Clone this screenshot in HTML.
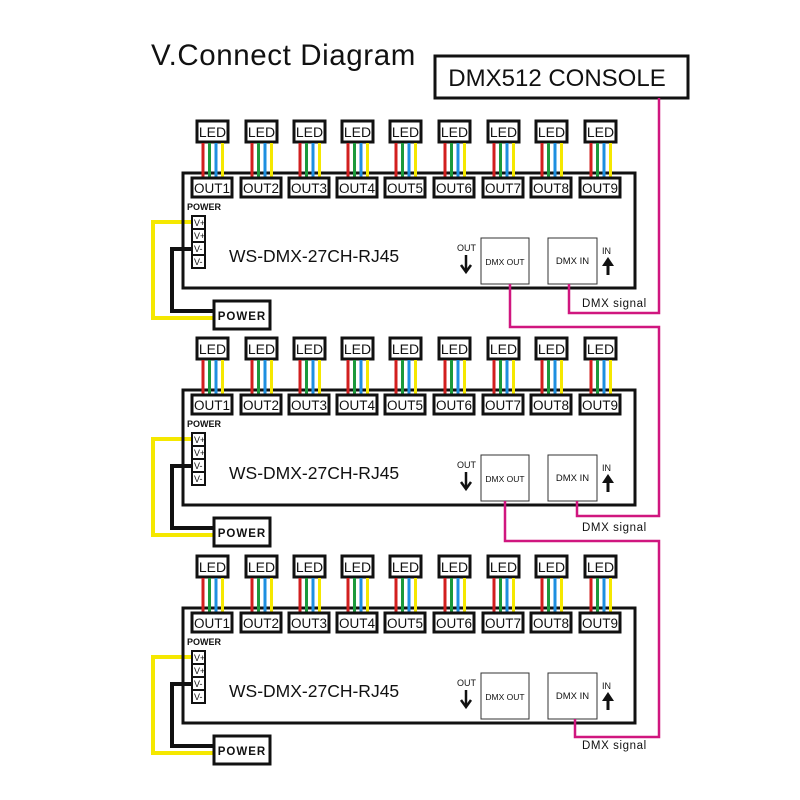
<!DOCTYPE html>
<html><head><meta charset="utf-8"><style>
html,body{margin:0;padding:0;background:#fff;}
svg{display:block;font-family:"Liberation Sans",Arial,sans-serif;}
</style></head><body>
<svg width="800" height="800" viewBox="0 0 800 800" xmlns="http://www.w3.org/2000/svg">
<defs>
<g id="mod">
  <polyline points="192,222 153,222 153,318 214,318" fill="none" stroke="#f5e800" stroke-width="4"/>
  <polyline points="192,249 172,249 172,311 214,311" fill="none" stroke="#111" stroke-width="4"/>
  <rect x="183" y="173" width="452" height="115" fill="none" stroke="#111" stroke-width="3"/>
  <rect x="197" y="121" width="31" height="21" fill="#fff" stroke="#111" stroke-width="3"/>
  <text x="212.5" y="137" font-size="14" text-anchor="middle" fill="#111">LED</text>
  <line x1="203" y1="143" x2="203" y2="178" stroke="#d21f1f" stroke-width="3"/>
  <line x1="209.5" y1="143" x2="209.5" y2="178" stroke="#1b9a3c" stroke-width="3"/>
  <line x1="216" y1="143" x2="216" y2="178" stroke="#1e8fe0" stroke-width="3"/>
  <line x1="222.5" y1="143" x2="222.5" y2="178" stroke="#f5e800" stroke-width="3"/>
  <rect x="192" y="178" width="40" height="19" fill="#fff" stroke="#111" stroke-width="3"/>
  <text x="212" y="193" font-size="13.5" text-anchor="middle" fill="#111">OUT1</text>
  <text x="187" y="210" font-size="9" font-weight="bold" fill="#111">POWER</text>
  <g fill="#fff" stroke="#111" stroke-width="2">
    <rect x="192" y="216" width="13" height="13"/><rect x="192" y="229" width="13" height="13"/>
    <rect x="192" y="242" width="13" height="13"/><rect x="192" y="255" width="13" height="13"/>
  </g>
  <g font-size="9" fill="#111">
    <text x="194" y="226">V+</text><text x="194" y="239">V+</text>
    <text x="194" y="252">V-</text><text x="194" y="265">V-</text>
  </g>
  <text x="229" y="262" font-size="17.5" fill="#111">WS-DMX-27CH-RJ45</text>
  <rect x="214" y="301" width="56" height="28" fill="#fff" stroke="#111" stroke-width="3"/>
  <text x="242" y="320" font-size="11.5" font-weight="bold" text-anchor="middle" letter-spacing="1" fill="#111">POWER</text>
  <rect x="481" y="238" width="48" height="46" fill="#fff" stroke="#333" stroke-width="1"/>
  <text x="505" y="265" font-size="8.5" text-anchor="middle" fill="#111">DMX OUT</text>
  <rect x="548" y="238" width="49" height="46" fill="#fff" stroke="#333" stroke-width="1"/>
  <text x="572.5" y="264" font-size="9.5" text-anchor="middle" fill="#111">DMX IN</text>
  <text x="457" y="251" font-size="9" fill="#111">OUT</text>
  <line x1="466" y1="255" x2="466" y2="270" stroke="#111" stroke-width="2.5"/>
  <polyline points="461,265 466,272 471,265" fill="none" stroke="#111" stroke-width="2.5"/>
  <text x="602" y="254" font-size="9" fill="#111">IN</text>
  <line x1="608" y1="259" x2="608" y2="275" stroke="#111" stroke-width="3"/>
  <polygon points="602,266 608,257 614,266" fill="#111"/>
</g>
</defs>

<text x="151" y="65" font-size="29.5" fill="#111" letter-spacing="0.6">V.Connect Diagram</text>
<rect x="435" y="56" width="253" height="42" fill="#fff" stroke="#111" stroke-width="3"/>
<text x="557" y="86" font-size="24" text-anchor="middle" fill="#111">DMX512 CONSOLE</text>

<use href="#mod"/>
<g transform="translate(0,217)"><use href="#mod"/></g>
<g transform="translate(0,435)"><use href="#mod"/></g>

<g fill="none" stroke="#d0167f" stroke-width="2.5">
  <polyline points="659,98 659,313 569,313 569,284"/>
  <polyline points="510,284 510,327 659,327 659,516 577,516 577,501"/>
  <polyline points="505,501 505,541 659,541 659,737 575,737 575,719"/>
</g>
<g font-size="11.5" fill="#111" letter-spacing="0.6">
  <text x="582" y="307">DMX  signal</text>
  <text x="582" y="531">DMX  signal</text>
  <text x="582" y="749">DMX  signal</text>
</g>
</svg>
<script>
(function(){
  var ns="http://www.w3.org/2000/svg";
  var svg=document.querySelector('svg');
  var xs=[0,49,97,145,193,242,291,339,388];
  var offs=[0,217,435];
  offs.forEach(function(dy){
    for(var i=1;i<9;i++){
      var g=document.createElementNS(ns,'g');
      g.setAttribute('transform','translate('+xs[i]+','+dy+')');
      g.innerHTML='<rect x="197" y="121" width="31" height="21" fill="#fff" stroke="#111" stroke-width="3"/>'+
      '<text x="212.5" y="137" font-size="14" text-anchor="middle" fill="#111">LED</text>'+
      '<line x1="203" y1="143" x2="203" y2="178" stroke="#d21f1f" stroke-width="3"/>'+
      '<line x1="209.5" y1="143" x2="209.5" y2="178" stroke="#1b9a3c" stroke-width="3"/>'+
      '<line x1="216" y1="143" x2="216" y2="178" stroke="#1e8fe0" stroke-width="3"/>'+
      '<line x1="222.5" y1="143" x2="222.5" y2="178" stroke="#f5e800" stroke-width="3"/>'+
      '<rect x="192" y="178" width="40" height="19" fill="#fff" stroke="#111" stroke-width="3"/>'+
      '<text x="212" y="193" font-size="13.5" text-anchor="middle" fill="#111">OUT'+(i+1)+'</text>';
      svg.appendChild(g);
    }
  });
})();
</script>
</body></html>
